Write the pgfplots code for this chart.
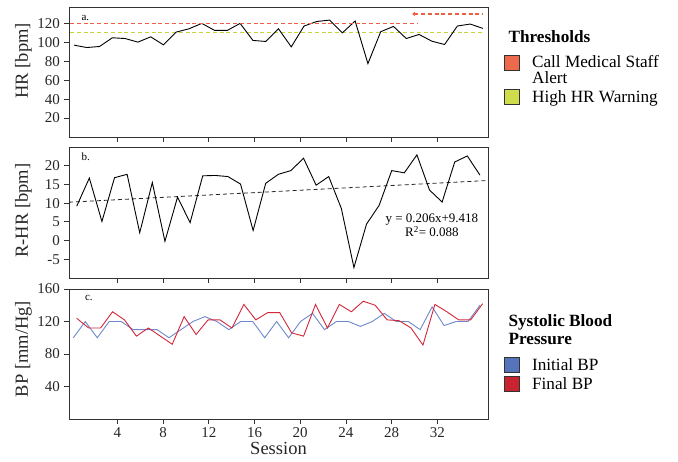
\documentclass[border=0pt]{standalone}
\usepackage{pgfplots}
\pgfplotsset{compat=1.18}
\usepackage{pgfplotstable}
\usepackage{fontspec}
\setmainfont{Liberation Serif}

\definecolor{thrred}{HTML}{EE6A4C}
\definecolor{alertln}{HTML}{EC5F43}
\definecolor{thrgreen}{HTML}{CFDC4C}
\definecolor{warnln}{HTML}{C6D33A}
\definecolor{bpblue}{HTML}{5674BC}
\definecolor{bpblueln}{HTML}{6E88CC}
\definecolor{bpred}{HTML}{C8232F}
\definecolor{bpredln}{HTML}{D2273A}
\definecolor{frame}{HTML}{333333}

% HR and resting-HR per session (33 sessions)
\pgfplotstableread{
hr rhr
97.0 9.2
94.5 16.7
95.6 5.1
104.8 16.8
104.0 17.7
100.2 2.1
105.8 15.5
97.3 -0.2
110.8 11.6
114.3 4.8
120.0 17.3
112.6 17.4
112.6 17.1
120.0 15.1
102.0 2.7
100.9 15.3
114.3 17.7
95.2 18.7
117.2 22.0
122.0 14.8
123.5 17.1
110.0 8.6
122.5 -7.2
77.5 4.4
111.2 9.4
116.8 18.7
104.0 18.1
108.3 22.9
101.2 13.5
97.7 10.3
117.2 21.0
119.3 22.6
114.7 17.5
}\hrdata

% systolic BP, initial and final (35 sessions)
\pgfplotstableread{
init final
100 124
120 112
100 112
120 132
120 122
110 102
110 112
110 102
100 92
110 126
120 104
126 122
120 122
110 112
120 141
120 122
100 131
120 131
100 106
120 102
130 141
110 112
120 141
120 132
114 145
120 140
130 122
120 121
120 112
110 91
138 141
115 132
120 122
120 122
140 142
}\bpdata

\tikzset{
  leg/.style={draw=none, fill=none, inner sep=0pt, outer sep=0pt, anchor=north west,
    font=\fontsize{17.2}{15.6}\selectfont, column sep=10pt,
    cells={anchor=base west, inner sep=0pt}},
  panlab/.style={anchor=base west, font=\fontsize{11}{12}\selectfont},
}
\pgfplotsset{
  panel/.style={
    scale only axis, width=419pt,
    xmin=-0.23, xmax=36.43,
    xtick={4,8,...,32},
    tick pos=left, tick align=outside, major tick length=4.5pt,
    major tick style={draw=frame, line width=0.8pt},
    axis line style={draw=frame, line width=0.9pt},
    /pgf/number format/assume math mode=true,
    tick label style={font=\fontsize{15}{15}\selectfont, text=black!85},
    every axis y label/.style={rotate=90, anchor=center, font=\fontsize{18.5}{20}\selectfont, text=black!85},
    every axis x label/.style={anchor=base, font=\fontsize{18.5}{20}\selectfont, text=black!85},
    yticklabel style={inner sep=0pt, xshift=-4.5pt},
    xticklabel style={inner sep=0pt, yshift=-4pt},
    legend image code/.code={\draw[##1, draw=frame, line width=0.8pt] (0pt,-2.3pt) rectangle (15pt,12.7pt);},
  },
}

\begin{document}
\begin{tikzpicture}
\useasboundingbox (0pt,0pt) rectangle (678pt,-461pt);

% a. heart rate with thresholds
\begin{axis}[panel, at={(69pt,-7pt)}, anchor=north west, height=130pt,
  ymin=0, ymax=137.3, ytick={20,40,...,120}, xticklabels={},
  ylabel={HR [bpm]}, ylabel style={at={(axis description cs:-0.1086,0.586)}},
  legend style={leg, at={(1.0389,0.64)}, row sep=16.9pt}]
\addlegendimage{fill=thrred}
\addlegendentry{\vtop{\baselineskip=15.6pt\hbox{Call Medical Staff}\hbox{Alert}}}
\addlegendimage{fill=thrgreen}
\addlegendentry{High HR Warning}
\addplot[draw=warnln, line width=1pt, dash pattern=on 4pt off 2.8pt, forget plot]
  coordinates {(-0.14,110) (35.88,110)};
\addplot[black, line width=0.9pt, forget plot]
  table[x expr={0.21+1.118*\coordindex}, y=hr] {\hrdata};
% alert threshold: 120 up to session 30, then 130
\addplot[draw=alertln, line width=1.2pt, dash pattern=on 4pt off 2.8pt, unbounded coords=jump, forget plot]
  coordinates {(-0.14,120) (30.33,120) (30.33,nan) (29.98,130) (35.99,130)};
\addplot[alertln, only marks, mark=*, mark size=1.6pt, forget plot]
  coordinates {(29.98,130)};
\node[panlab] at (axis description cs:0.0215,0.9) {a.};
\end{axis}

% b. resting heart rate with linear trend
\begin{axis}[panel, at={(69pt,-147pt)}, anchor=north west, height=131pt,
  ymin=-10, ymax=25, ytick={-5,0,...,20}, xticklabels={},
  ylabel={R-HR [bpm]}, ylabel style={at={(axis description cs:-0.1086,0.514)}}]
\addplot[black!85, line width=0.8pt, dash pattern=on 4pt off 3pt]
  coordinates {(-0.23,10.25) (36.43,16.05)};
\addplot[black, line width=0.9pt]
  table[x expr={0.446+1.1024*\coordindex}, y=rhr] {\hrdata};
\node[panlab] at (axis description cs:0.0215,0.9) {b.};
\node[anchor=base, font=\fontsize{13}{14}\selectfont] at (axis description cs:0.866,0.422) {y = 0.206x+9.418};
\node[anchor=base, font=\fontsize{13}{14}\selectfont] at (axis description cs:0.866,0.315) {R\textsuperscript{2}= 0.088};
\end{axis}

% c. systolic blood pressure
\begin{axis}[panel, at={(69pt,-289pt)}, anchor=north west, height=130pt,
  ymin=0, ymax=160, ytick={40,80,120,160},
  xlabel={Session}, xlabel style={at={(axis description cs:0.5,-0.27)}},
  ylabel={BP [mm/Hg]}, ylabel style={at={(axis description cs:-0.1086,0.538)}},
  legend style={leg, at={(1.0389,0.48)}, row sep=1.4pt}]
\addlegendimage{fill=bpblue}
\addlegendentry{Initial BP}
\addlegendimage{fill=bpred}
\addlegendentry{Final BP}
\addplot[bpblueln, line width=0.9pt, forget plot]
  table[x expr={0.149+1.0464*\coordindex}, y=init] {\bpdata};
\addplot[bpredln, line width=0.9pt, forget plot]
  table[x expr={0.446+1.0446*\coordindex}, y=final] {\bpdata};
\node[panlab] at (axis description cs:0.03,0.91) {c.};
\end{axis}

\node[anchor=base west, font=\bfseries\fontsize{17.2}{18}\selectfont] at (505pt,-42.3pt) {Thresholds};
\node[anchor=base west, font=\bfseries\fontsize{17.2}{18.3}\selectfont] at (505pt,-326pt)
  {\vtop{\hbox{Systolic Blood}\hbox{Pressure}}};
\end{tikzpicture}
\end{document}
